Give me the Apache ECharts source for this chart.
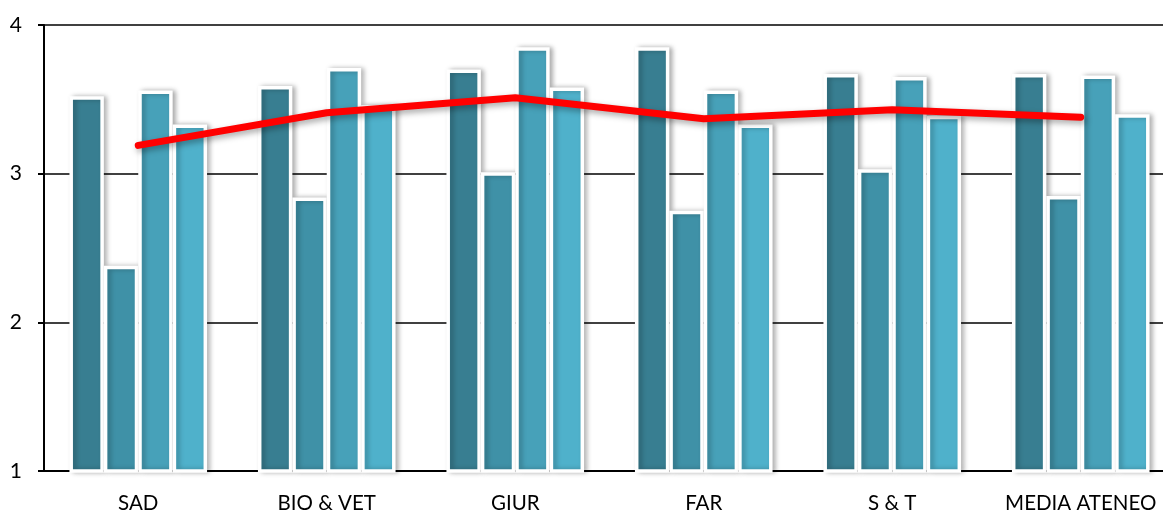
<!DOCTYPE html>
<html>
<head>
<meta charset="utf-8">
<script src="https://cdn.jsdelivr.net/npm/echarts@6/dist/echarts.min.js"></script>
<style>html,body{margin:0;padding:0;background:#fff}#c{width:1163px;height:511px}</style>
</head>
<body>
<div id="c"></div>
<script>
const categories = ['SAD', 'BIO & VET', 'GIUR', 'FAR', 'S & T', 'MEDIA ATENEO'];
const series1 = [3.52, 3.59, 3.70, 3.85, 3.67, 3.67];
const series2 = [2.38, 2.84, 3.01, 2.75, 3.03, 2.85];
const series3 = [3.56, 3.71, 3.85, 3.56, 3.65, 3.66];
const series4 = [3.33, 3.46, 3.58, 3.33, 3.39, 3.40];
const lineValues = [3.19, 3.41, 3.51, 3.37, 3.43, 3.38];
const yTicks = [1, 2, 3, 4];

const barColors = ['#387E91', '#3F91A7', '#47A1B9', '#4FB1CB'];
const font = 'Lato, Open Sans, sans-serif';

function barSeries(data, color) {
  return {
    type: 'bar',
    data: data,
    barGap: '0%',
    barCategoryGap: '27%',
    itemStyle: {
      color: color,
      borderColor: '#ffffff',
      borderWidth: 3.5,
      shadowColor: 'rgba(0,0,0,0.28)',
      shadowBlur: 5,
      shadowOffsetX: 3,
      shadowOffsetY: 0
    },
    emphasis: { disabled: true },
    z: 2
  };
}

const chart = echarts.init(document.getElementById('c'), null, { renderer: 'canvas' });
chart.setOption({
  animation: false,
  backgroundColor: '#ffffff',
  grid: { left: 44, width: 1131, top: 25, height: 446, containLabel: false, outerBoundsMode: 'none' },
  xAxis: {
    type: 'category',
    data: categories,
    axisLine: { show: true, lineStyle: { color: '#000', width: 2 } },
    axisTick: { show: false },
    axisLabel: { color: '#000', fontSize: 20.5, fontFamily: font, margin: 22, interval: 0, hideOverlap: false }
  },
  yAxis: {
    type: 'value',
    min: yTicks[0],
    max: yTicks[yTicks.length - 1],
    interval: 1,
    axisLine: { show: true, lineStyle: { color: '#000', width: 2 } },
    axisTick: { show: true, length: 6, lineStyle: { color: '#000', width: 2 } },
    axisLabel: { color: '#000', fontSize: 21, fontFamily: font, margin: 22 },
    splitLine: { show: true, lineStyle: { color: '#000', width: 1.5 } }
  },
  series: [
    barSeries(series1, barColors[0]),
    barSeries(series2, barColors[1]),
    barSeries(series3, barColors[2]),
    barSeries(series4, barColors[3]),
    {
      type: 'line',
      data: lineValues,
      showSymbol: false,
      symbol: 'none',
      lineStyle: {
        color: '#FF0000',
        width: 7,
        cap: 'round',
        join: 'round',
        shadowColor: 'rgba(0,0,0,0.35)',
        shadowBlur: 6,
        shadowOffsetX: 2,
        shadowOffsetY: 3
      },
      emphasis: { disabled: true },
      z: 5
    }
  ]
});
</script>
</body>
</html>
